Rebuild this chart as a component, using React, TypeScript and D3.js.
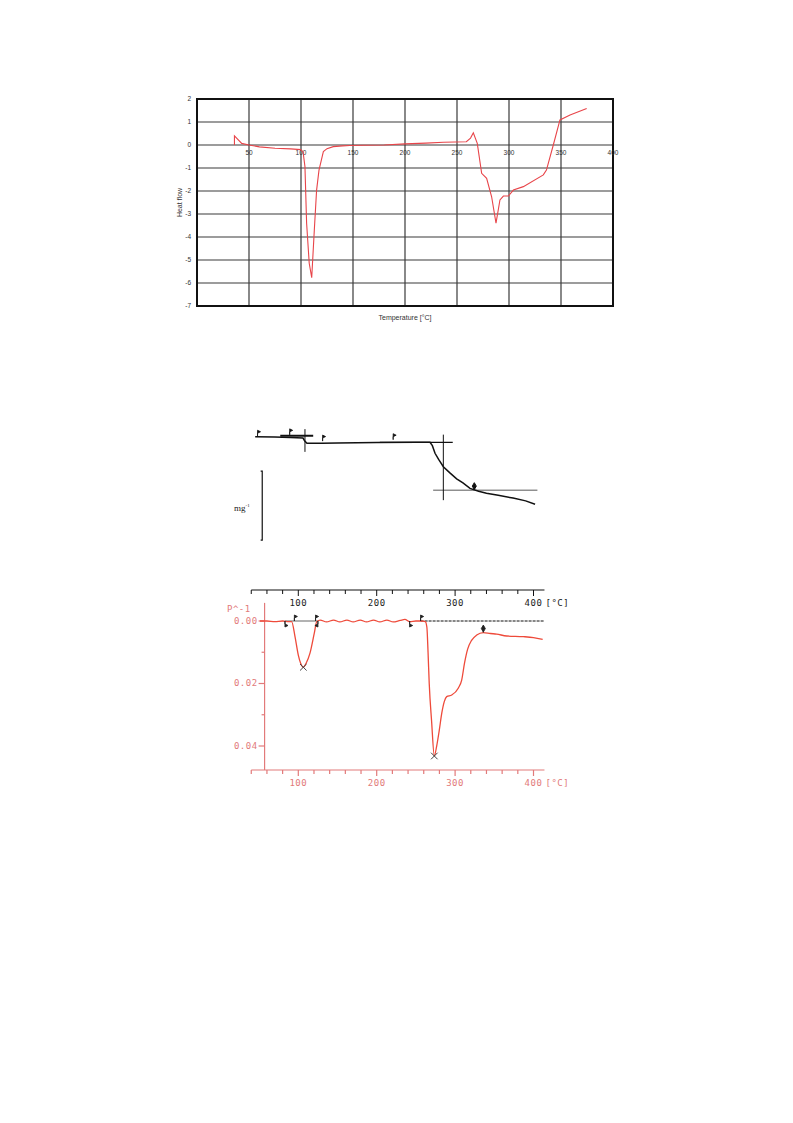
import React from 'react';
import * as d3 from 'd3';

// DSC curve (top chart)
const dscTemp = [36, 36, 43, 50, 60, 75, 90, 99.7, 102, 103.8, 105.4, 107.9, 110.3, 112.8, 115, 117.3, 121.5, 125, 131, 140, 147, 160, 180, 200, 220, 237, 259, 263, 265.7, 269.5, 273.7, 278.5, 283.3, 287.5, 291.3, 294.6, 299.4, 304.2, 313.8, 333, 336, 342.6, 349, 358.7, 374.7];
const dscHeat = [0, 0.4, 0.07, 0, -0.08, -0.14, -0.17, -0.2, -0.3, -0.94, -3.4, -5.14, -5.77, -3.7, -1.96, -1.09, -0.29, -0.16, -0.07, -0.04, -0.02, -0.01, 0, 0.05, 0.08, 0.12, 0.14, 0.3, 0.53, 0.07, -1.23, -1.45, -2.25, -3.4, -2.39, -2.22, -2.22, -1.96, -1.81, -1.3, -1.09, 0, 1.09, 1.3, 1.59];
const dscXTicks = [50, 100, 150, 200, 250, 300, 350, 400];
const dscYTicks = [2, 1, 0, -1, -2, -3, -4, -5, -6, -7];

// TGA curve (middle chart), mass in %
const tgaTemp = [45, 70, 90, 106, 108, 111, 130, 150, 200, 250, 268, 271, 274.4, 279, 285, 293, 302, 310, 319, 330, 340, 355, 374, 390, 402];
const tgaMass = [100, 99.95, 99.9, 99.8, 99.4, 99.05, 99.05, 99.1, 99.15, 99.18, 99.18, 98.7, 97.6, 96.7, 95.65, 94.8, 93.9, 93.3, 92.5, 92.1, 91.8, 91.5, 91.1, 90.7, 90.2];
const tgaFlags = [[48, 100.5], [89, 100.7], [131, 99.8], [221, 100]];

// DTG curve (bottom chart)
const dtgTemp = [51, 60, 70, 80, 88, 91.5, 95.8, 100, 103, 106.4, 110, 115, 120.4, 123.5, 128, 136, 145, 153, 162, 170, 179, 187, 196, 204, 213, 221, 230, 236, 242, 250, 257.4, 260, 262, 264, 265.5, 267, 270, 273.5, 276.5, 279.8, 283, 286.2, 289.3, 295.7, 304, 308.4, 312, 316, 321, 327.6, 336, 345, 353, 365.8, 387, 400, 411.7];
const dtgVal = [0, 0, 0.0002, 0, 0.0002, 0.0002, 0.005, 0.0109, 0.0135, 0.0148, 0.0135, 0.0102, 0.0039, 0.0002, -0.0003, 0.0003, -0.0003, 0.0003, -0.0003, 0.0003, -0.0003, 0.0003, -0.0003, 0.0003, -0.0003, 0.0003, -0.0002, -0.0005, 0.0002, 0, 0, 0.0001, 0.0002, 0.002, 0.01, 0.02, 0.032, 0.0432, 0.04, 0.035, 0.0295, 0.0258, 0.0242, 0.0237, 0.0215, 0.0189, 0.0135, 0.009, 0.0062, 0.0045, 0.0037, 0.004, 0.0042, 0.0048, 0.005, 0.0053, 0.0059];
const dtgPeaks = [[106.4, 0.0148], [273.5, 0.0432]];
const tempTicks = d3.range(40, 401, 20);
const tempLabels = [100, 200, 300, 400];
const dtgYTicks = [0, 0.01, 0.02, 0.03, 0.04];

const RED = '#ee4a3a';
const PINK = '#e27a7a';

const flagUp = (x: number, y: number) => `M${x},${y}V${y - 6}l3,1.5l-3,1.5Z`;
const flagDown = (x: number, y: number, dir: number) => `M${x},${y}V${y + 6}l${3 * dir},-1.5l${-3 * dir},-1.5Z`;

const App: React.FC = () => {
  // top chart
  const x1 = d3.scaleLinear().domain([0, 400]).range([197, 613]);
  const y1 = d3.scaleLinear().domain([-7, 2]).range([306, 99]);
  const dscLine = d3.line<number>().x((d, i) => x1(dscTemp[i])).y(d => y1(d));

  // shared temperature scale for middle and bottom
  const xb = d3.scaleLinear().domain([0, 400]).range([219.9, 533.5]);
  const ym = d3.scaleLinear().domain([100, 85]).range([436.7, 540.2]);
  const yd = d3.scaleLinear().domain([0, 0.04]).range([621, 746]);
  const tgaLine = d3.line<number>().x((d, i) => xb(tgaTemp[i])).y(d => ym(d));
  const dtgLine = d3.line<number>().x((d, i) => xb(dtgTemp[i])).y(d => yd(d)).curve(d3.curveMonotoneX);

  const topAxisY = 590;
  const botAxisY = 770;
  const yAxisX = xb(57);

  return (
    <svg width={793} height={1123} style={{ position: 'absolute', left: 0, top: 0, background: '#fff' }}>
      {/* ---------- DSC ---------- */}
      <g fontFamily="Liberation Sans, Arial, sans-serif" fontSize={6.5} fill="#333">
        {dscXTicks.slice(0, -1).map(t => (
          <line key={'gx' + t} x1={x1(t)} x2={x1(t)} y1={y1(2)} y2={y1(-7)} stroke="#3a3a3a" strokeWidth={1.2} />
        ))}
        {dscYTicks.slice(1, -1).map(t => (
          <line key={'gy' + t} x1={x1(0)} x2={x1(400)} y1={y1(t)} y2={y1(t)} stroke="#3a3a3a" strokeWidth={1.2} />
        ))}
        <rect x={x1(0)} y={y1(2)} width={x1(400) - x1(0)} height={y1(-7) - y1(2)} fill="none" stroke="#111" strokeWidth={2} />
        {dscYTicks.map(t => (
          <text key={'ly' + t} x={x1(0) - 6} y={y1(t)} textAnchor="end" dominantBaseline="middle">{t}</text>
        ))}
        {dscXTicks.map(t => (
          <text key={'lx' + t} x={x1(t)} y={y1(0) + 10} textAnchor="middle">{t}</text>
        ))}
        <text transform={`translate(182,${(y1(2) + y1(-7)) / 2}) rotate(-90)`} textAnchor="middle" fontSize={7}>Heat flow</text>
        <text x={(x1(0) + x1(400)) / 2} y={320} textAnchor="middle" fontSize={7}>Temperature [°C]</text>
        <path d={dscLine(dscHeat) || ''} fill="none" stroke="#e8454a" strokeWidth={1.1} />
      </g>

      {/* ---------- TGA ---------- */}
      <g stroke="#111" fill="none">
        <line x1={xb(77)} x2={xb(119)} y1={ym(100.15)} y2={ym(100.15)} strokeWidth={2} />
        <line x1={xb(108.5)} x2={xb(108.5)} y1={ym(101.1)} y2={ym(97.8)} strokeWidth={1} />
        <line x1={xb(204)} x2={xb(297)} y1={ym(99.19)} y2={ym(99.19)} strokeWidth={1.3} />
        <line x1={xb(285)} x2={xb(285)} y1={ym(100.3)} y2={ym(90.8)} strokeWidth={1} />
        <line x1={xb(272)} x2={xb(405)} y1={ym(92.25)} y2={ym(92.25)} strokeWidth={0.7} />
        <path d={tgaLine(tgaMass) || ''} strokeWidth={1.5} />
        {tgaFlags.map(([t, m], i) => (
          <path key={'tf' + i} d={flagUp(xb(t), ym(m) + 3)} fill="#111" strokeWidth={0.8} />
        ))}
        <path d={`M${xb(324.5)},${ym(92.4)}V${ym(92.4) - 4}`} strokeWidth={1} />
        <path d={d3.symbol(d3.symbolDiamond, 14)() || ''} transform={`translate(${xb(324.5)},${ym(92.4) - 3})`} fill="#111" />
        {/* scale bar */}
        <path d={`M${xb(52)},${ym(95)}H${xb(54)}V${ym(85)}H${xb(52)}`} strokeWidth={1.2} />
      </g>
      <text x={234} y={511} fontFamily="Liberation Serif, serif" fontSize={9} fill="#222">
        mg<tspan dy={-4} fontSize={5}>-1</tspan>
      </text>

      {/* ---------- DTG top axis (black) ---------- */}
      <g stroke="#111" strokeWidth={1}>
        <line x1={xb(40)} x2={xb(414)} y1={topAxisY} y2={topAxisY} strokeWidth={1.2} />
        {tempTicks.map(t => (
          <line key={'tt' + t} x1={xb(t)} x2={xb(t)} y1={topAxisY} y2={topAxisY + (t % 100 === 0 ? 6 : 4)} />
        ))}
      </g>
      <g fontFamily="DejaVu Sans Mono, monospace" fontSize={9} fill="#222" letterSpacing={0.5}>
        {tempLabels.map(t => (
          <text key={'tl' + t} x={xb(t)} y={606} textAnchor="middle">{t}</text>
        ))}
        <text x={xb(400) + 12} y={606}>[°C]</text>
      </g>

      {/* ---------- DTG axes (red) ---------- */}
      <g stroke={PINK} strokeWidth={1.2}>
        <line x1={yAxisX} x2={yAxisX} y1={yd(-0.0058)} y2={botAxisY} />
        {dtgYTicks.map(t => (
          <line key={'yt' + t} x1={yAxisX - (t * 100 % 2 === 0 ? 6 : 3)} x2={yAxisX} y1={yd(t)} y2={yd(t)} />
        ))}
        <line x1={xb(40)} x2={xb(414)} y1={botAxisY} y2={botAxisY} />
        {tempTicks.map(t => (
          <line key={'bt' + t} x1={xb(t)} x2={xb(t)} y1={botAxisY} y2={botAxisY + (t % 100 === 0 ? 6 : 4)} />
        ))}
      </g>
      <g fontFamily="DejaVu Sans Mono, monospace" fontSize={9} fill={PINK} letterSpacing={0.5}>
        <text x={227} y={612}>P^-1</text>
        {[0, 0.02, 0.04].map(t => (
          <text key={'yl' + t} x={yAxisX - 7} y={yd(t)} textAnchor="end" dominantBaseline="middle">{t.toFixed(2)}</text>
        ))}
        {tempLabels.map(t => (
          <text key={'bl' + t} x={xb(t)} y={786} textAnchor="middle">{t}</text>
        ))}
        <text x={xb(400) + 12} y={786}>[°C]</text>
      </g>

      {/* baselines and markers */}
      <g stroke="#444" fill="#222">
        <line x1={xb(83)} x2={xb(125)} y1={yd(0)} y2={yd(0)} strokeWidth={1} stroke="#666" />
        <line x1={xb(256)} x2={xb(413)} y1={yd(0)} y2={yd(0)} strokeWidth={1.2} stroke="#111" strokeDasharray="3,1" />
      </g>
      <path d={dtgLine(dtgVal) || ''} fill="none" stroke={RED} strokeWidth={1.3} />
      <g stroke="#222" fill="#222" strokeWidth={0.9}>
        <path d={flagDown(xb(83), yd(0), 1)} />
        <path d={flagUp(xb(95), yd(0))} />
        <path d={flagUp(xb(122), yd(0))} />
        <path d={flagDown(xb(125), yd(0), -1)} />
        <path d={flagDown(xb(242), yd(0), 1)} />
        <path d={flagUp(xb(256), yd(0))} />
        <path d={`M${xb(336)},${yd(0.0037)}V${yd(0.0037) - 5}`} />
        <path d={d3.symbol(d3.symbolDiamond, 14)() || ''} transform={`translate(${xb(336)},${yd(0.0037) - 4})`} />
        {dtgPeaks.map(([t, v], i) => (
          <path key={'pk' + i} d={d3.symbol(d3.symbolX, 30)() || ''} transform={`translate(${xb(t)},${yd(v)})`} fill="none" stroke="#444" strokeWidth={1} />
        ))}
      </g>
    </svg>
  );
};

export default App;
